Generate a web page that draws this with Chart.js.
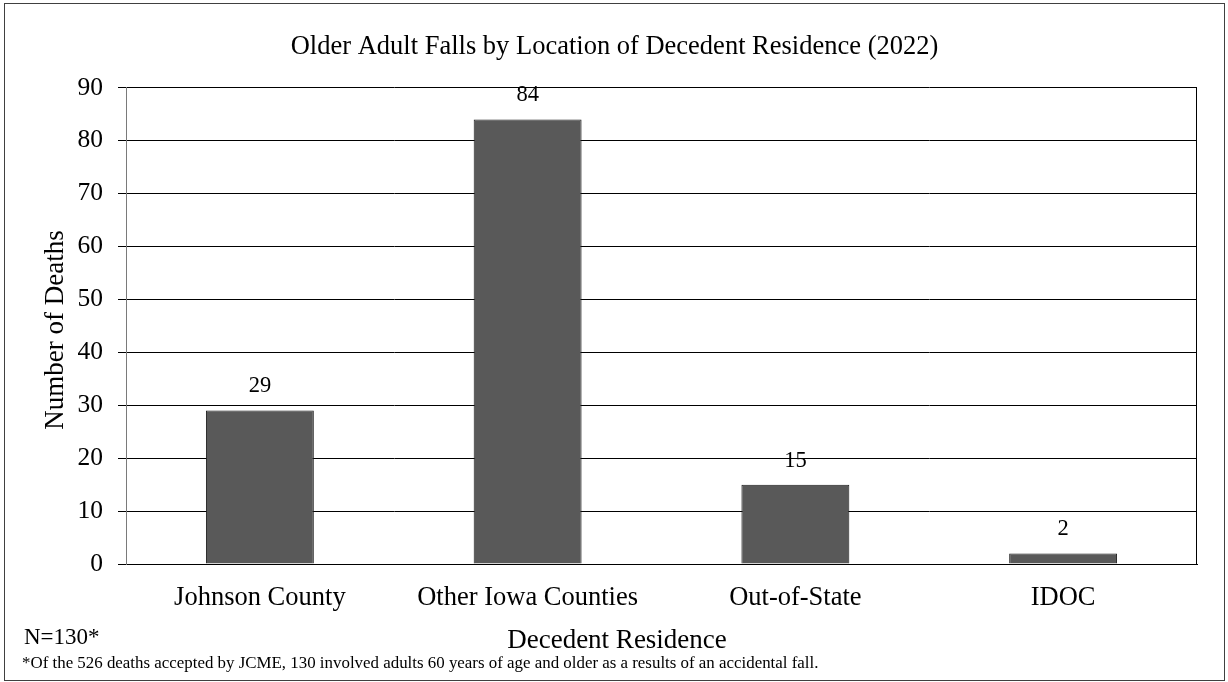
<!DOCTYPE html>
<html><head><meta charset="utf-8">
<script src="https://cdn.jsdelivr.net/npm/chart.js@4/dist/chart.umd.min.js"></script>
<style>html,body{margin:0;padding:0;background:#fff;}#wrap{width:1228px;height:682px;position:relative;}</style>
</head><body><div id="wrap"><canvas id="c" width="1228" height="682"></canvas></div>
<script>
const categories = ["Johnson County", "Other Iowa Counties", "Out-of-State", "IDOC"];
const deaths = [29, 84, 15, 2];
const yTicks = [0, 10, 20, 30, 40, 50, 60, 70, 80, 90];
const chartTitle = "Older Adult Falls by Location of Decedent Residence (2022)";
const yTitle = "Number of Deaths";
const xTitle = "Decedent Residence";
const nNote = "N=130*";
const footnote = "*Of the 526 deaths accepted by JCME, 130 involved adults 60 years of age and older as a results of an accidental fall.";

const FONT = "'Liberation Serif', 'Times New Roman', serif";

const decor = {
  id: 'decor',
  afterDatasetsDraw(chart) {
    const ctx = chart.ctx, a = chart.chartArea;
    ctx.save();
    // value labels
    ctx.font = "22.5px " + FONT;
    ctx.fillStyle = '#000';
    ctx.textAlign = 'center';
    ctx.textBaseline = 'middle';
    const meta = chart.getDatasetMeta(0);
    meta.data.forEach((bar, i) => {
      ctx.fillText(String(deaths[i]), bar.x, bar.y - 24);
    });
    // plot right border
    ctx.strokeStyle = '#000';
    ctx.lineWidth = 1;
    ctx.beginPath();
    ctx.moveTo(Math.round(a.right) - 0.5, a.top);
    ctx.lineTo(Math.round(a.right) - 0.5, a.bottom);
    ctx.stroke();
    // axis titles
    ctx.font = "27px " + FONT;
    ctx.textAlign = 'center';
    ctx.textBaseline = 'alphabetic';
    ctx.fillText(xTitle, 617, 648);
    ctx.save();
    ctx.translate(63, 330);
    ctx.rotate(-Math.PI / 2);
    ctx.fillText(yTitle, 0, 0);
    ctx.restore();
    // notes
    ctx.textAlign = 'left';
    ctx.textBaseline = 'middle';
    ctx.font = "23px " + FONT;
    ctx.fillText(nNote, 24, 638);
    ctx.font = "16.9px " + FONT;
    ctx.fillText(footnote, 22, 664);
    // outer frame
    ctx.strokeStyle = '#404040';
    ctx.strokeRect(4.5, 3.5, 1220, 677);
    ctx.restore();
  }
};

new Chart(document.getElementById('c'), {
  type: 'bar',
  data: {
    labels: categories,
    datasets: [{
      data: deaths,
      backgroundColor: '#595959',
      borderColor: '#1a1a1a',
      borderWidth: 1,
      categoryPercentage: 1,
      barPercentage: 0.403
    }]
  },
  options: {
    responsive: false,
    animation: false,
    devicePixelRatio: 1,
    layout: { padding: { left: 32, right: 31, top: 14, bottom: 30 } },
    plugins: {
      legend: { display: false },
      tooltip: { enabled: false },
      title: {
        display: true,
        text: chartTitle,
        color: '#000',
        font: { family: FONT, size: 26.5, weight: 'normal' },
        padding: { top: 17, bottom: 25 }
      }
    },
    scales: {
      x: {
        grid: { display: false, drawTicks: false },
        border: { display: true, color: '#000', width: 1 },
        ticks: { color: '#000', font: { family: FONT, size: 26.5 }, padding: 18, maxRotation: 0 },
        afterFit(s) { s.height = 88; }
      },
      y: {
        min: 0, max: 90,
        afterBuildTicks(s) { s.ticks = yTicks.map(v => ({ value: v })); },
        grid: { color: '#000', lineWidth: 1, tickLength: 8, tickColor: '#000' },
        border: { display: true, color: '#7a7a7a', width: 1 },
        ticks: { color: '#000', font: { family: FONT, size: 25.5 }, padding: 15 },
        afterFit(s) { s.width = 94; }
      }
    }
  },
  plugins: [decor]
});
</script>
</body></html>
